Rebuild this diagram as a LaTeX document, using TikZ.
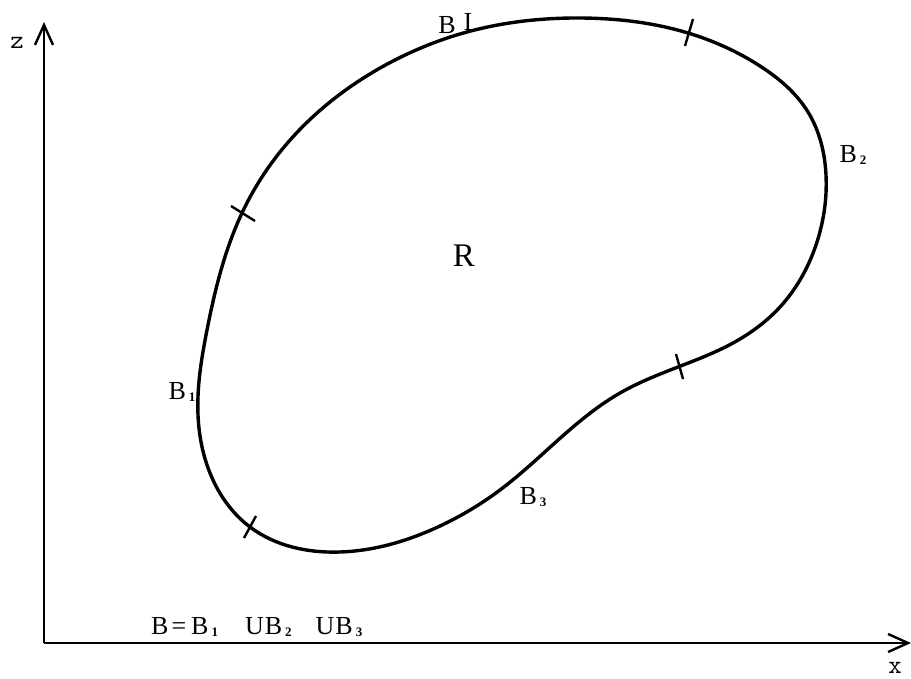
\documentclass[tikz,border=0pt]{standalone}
\usepackage{fontspec}
\setmainfont{Liberation Serif}
\usetikzlibrary{arrows.meta,hobby}
\newcommand{\subd}[1]{\hspace{3pt}\raisebox{-1.5pt}{\fontsize{13}{13}\selectfont\bfseries #1}}
\tikzset{
  curveline/.style={line width=3.4pt, line join=round},
  axisline/.style={line width=2.8pt, -{Straight Barb[length=20pt,width=18pt,line width=2.4pt]}},
  tickline/.style={line width=2.4pt},
  lbl/.style={inner sep=0pt, font=\fontsize{26}{26}\selectfont},
  axlbl/.style={inner sep=0pt, font=\ttfamily\fontsize{26}{26}\selectfont}
}
\begin{document}
\begin{tikzpicture}[x=1pt,y=-1pt]
\useasboundingbox[fill=white] (0,0) rectangle (911,679);
% axes
\coordinate (O) at (44,643);
\coordinate (ztip) at (44,22);
\coordinate (xtip) at (911,643);
\draw[axisline] (O) -- (ztip);
\draw[axisline] (O) -- (xtip);
\node[axlbl] (zl) at (17,43) {z};
\node[axlbl] (xl) at (895,668) {x};
% region boundary
\draw[curveline, use Hobby shortcut, closed=true]
(467,32) .. (580,18) .. (688,33) .. (760,66) .. (808,112) ..
(826,175) .. (816,245) .. (780,307) .. (733,343) .. (678,367) ..
(620,393) .. (547,450) .. (500,490) .. (440,526) .. (340,552) ..
(250,527) .. (213,480) .. (198,415) .. (207,330) .. (242,213) ..
(280,152) .. (330,102) .. (395,60);
% tick marks
\draw[tickline] (231,206) -- (255,221);
\draw[tickline] (693,19) -- (685,46);
\draw[tickline] (676,354) -- (683,379);
\draw[tickline] (256,516) -- (244,538);
% labels
\node[lbl] (bt) at (447,25) {B};
\node[lbl] (it) at (468,22) {I};
\node[lbl] (b2) at (853,155) {B\subd{2}};
\node[lbl] (b1) at (182,392) {B\subd{1}};
\node[lbl] (b3) at (533,497) {B\subd{3}};
\node[lbl, font=\fontsize{33}{33}\selectfont] (r) at (464,256) {R};
\node[lbl, anchor=west] (eq) at (151,627) {B\hspace{3pt}=\hspace{5pt}B\subd{1}\hspace{27pt}U\hspace{1pt}B\subd{2}\hspace{24pt}U\hspace{1pt}B\subd{3}};
\end{tikzpicture}
\end{document}
